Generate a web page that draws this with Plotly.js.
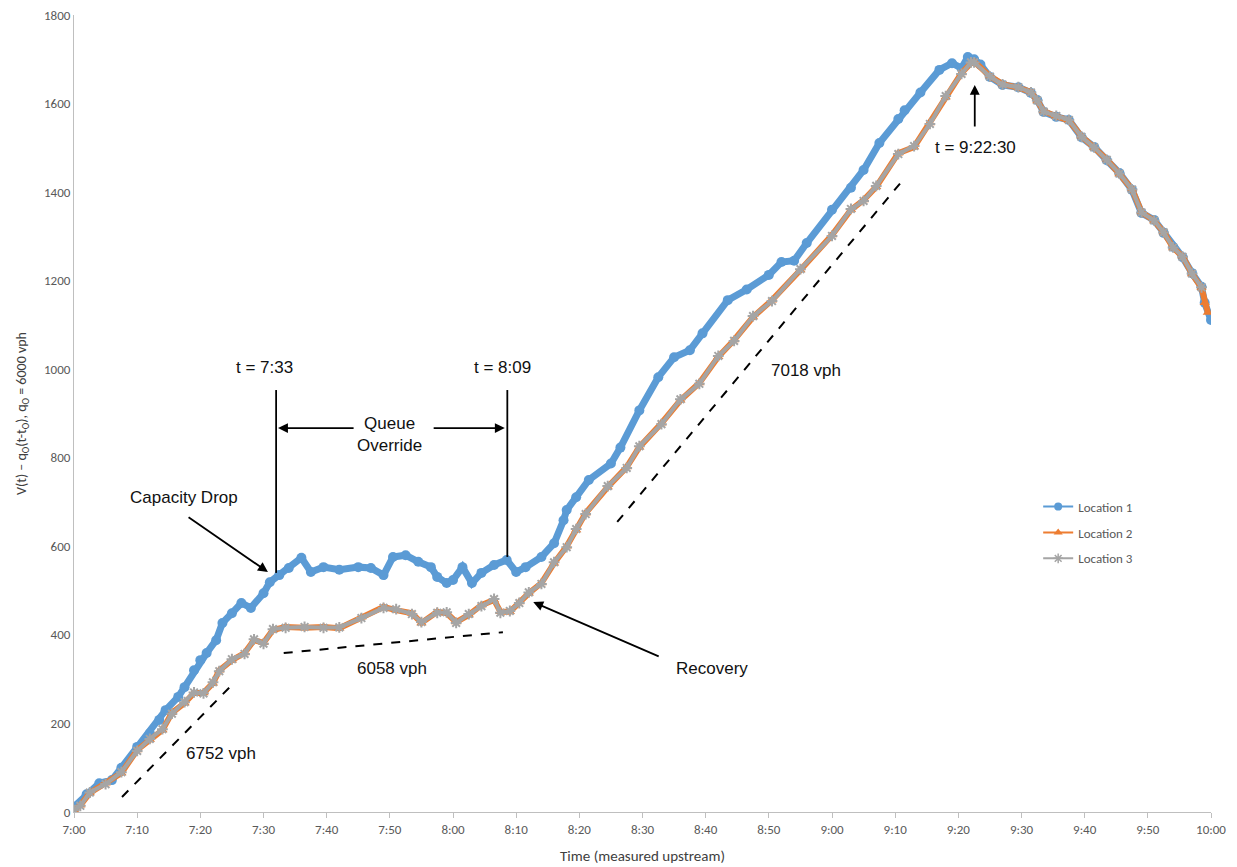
<!DOCTYPE html>
<html>
<head>
<meta charset="utf-8">
<script src="https://cdn.plot.ly/plotly-3.0.1.min.js"></script>
<style>html,body{margin:0;padding:0;background:#fff;}#chart{width:1237px;height:867px;}</style>
</head>
<body>
<div id="chart"></div>
<script>
// Minutes after 7:00 and cumulative values
const loc1Min = [0,2,4,6,7.5,10,12,13.5,14.5,16.5,17.5,19,20,21,22.5,23.5,25,26.5,28,30,31,32.5,34,36,37.5,39.5,42,45,47,49,50.5,52.5,54.5,56.5,57.5,59,60,61.5,63,64.5,66.5,68.5,70,71.5,74,76,77.5,78,79.5,81.5,85,86.5,89.5,92.5,95,97.5,99.5,103.5,106.5,110,112,114,116,120,123,125,127.5,130.5,131.5,134,137,139,140.5,141.5,142.5,143.5,145,147,149.5,151.5,152.5,153.5,155.5,157.5,159.5,161.5,163.5,165.5,167.5,169,171,172.5,174,175.5,177,178.5,179,180];
const loc1Val = [12,40,65,72,100,147,178,208,230,260,282,320,343,359,388,427,449,472,461,494,519,535,551,574,542,553,547,553,551,535,576,580,565,553,531,517,524,553,517,540,558,569,542,553,576,607,659,682,711,750,787,823,907,982,1027,1043,1081,1156,1180,1213,1242,1245,1285,1360,1410,1450,1511,1565,1585,1625,1676,1691,1680,1705,1700,1688,1660,1642,1637,1624,1608,1581,1570,1563,1524,1502,1472,1443,1405,1353,1337,1308,1276,1253,1217,1186,1150,1111];

const loc2Min = [0,1,2.5,5,7.5,10,12,14,15.5,17.5,19,20.5,22,23,25,27,28.5,30,31.5,33.5,36.5,39.5,42,45.5,49,51,53.5,55,57.5,59,60.5,62.5,64.5,66.5,67.5,69,70.5,72,74,76,78,79.5,81,84.5,87.5,89.5,93,96,99,102,104.5,107.5,110.5,115,120,123,125,127,130.5,133,135.5,138,140.5,142,142.5,145,147,149.5,151.5,152.5,153.5,155.5,157.5,159.5,161.5,163.5,165.5,167.5,169,171,172.5,174,175.5,177,178.5,179,179.5];
const loc2Val = [5,15,43,65,88,140,163,185,224,246,269,269,291,320,343,359,388,382,411,418,416,418,415,440,463,456,449,427,452,449,429,445,467,479,452,452,474,494,517,562,600,637,675,734,779,824,878,930,969,1028,1066,1118,1156,1224,1303,1360,1382,1412,1488,1502,1556,1615,1669,1691,1695,1662,1644,1636,1626,1606,1583,1571,1562,1526,1500,1474,1441,1407,1355,1335,1310,1274,1255,1215,1184,1150,1128];

const loc3Min = [0,1,2.5,5,7.5,10,12,14,15.5,17.5,19,20.5,22,23,25,27,28.5,30,31.5,33.5,36.5,39.5,42,45.5,49,51,53.5,55,57.5,59,60.5,62.5,64.5,66.5,67.5,69,70.5,72,74,76,78,79.5,81,84.5,87.5,89.5,93,96,99,102,104.5,107.5,110.5,115,120,123,125,127,130.5,133,135.5,138,140.5,142,142.5,145,147,149.5,151.5,152.5,153.5,155.5,157.5,159.5,161.5,163.5,165.5,167.5,169,171,172.5,174,175.5,177,178.5];
const loc3Val = [4,14,44,63,90,138,165,187,222,248,270,268,293,318,345,357,390,380,413,416,418,416,417,438,461,458,447,429,450,451,427,447,465,481,450,454,472,496,515,564,598,639,673,736,777,826,876,932,967,1030,1064,1120,1154,1226,1301,1362,1380,1414,1486,1504,1554,1617,1667,1693,1693,1661,1643,1637,1625,1607,1582,1572,1563,1525,1501,1473,1442,1406,1354,1336,1309,1275,1254,1216,1185];

const seriesNames = ['Location 1','Location 2','Location 3'];
const tickMinutes = [0,10,20,30,40,50,60,70,80,90,100,110,120,130,140,150,160,170,180];

const BASE = '2016-01-01 ';
function pad(n){return (n<10?'0':'')+n;}
function t(m){
  const whole = Math.floor(m);
  const s = Math.round((m-whole)*60);
  const h = 7 + Math.floor(whole/60);
  const mm = whole % 60;
  return BASE + pad(h)+':'+pad(mm)+':'+pad(s);
}

const colors = ['#5B9BD5','#ED7D31','#A5A5A5'];
const markers = [
  {symbol:'circle', size:10, color:colors[0]},
  {symbol:'triangle-up', size:9, color:colors[1]},
  {symbol:'asterisk-open', size:9, color:colors[2], line:{color:colors[2], width:2}}
];
const legendMarkers = [
  {symbol:'circle', size:8, color:colors[0]},
  {symbol:'triangle-up', size:8, color:colors[1]},
  {symbol:'asterisk-open', size:8, color:colors[2], line:{color:colors[2], width:1.5}}
];

const traces = [
  {x: loc1Min.map(t), y: loc1Val, name: seriesNames[0], showlegend:false, mode:'lines+markers', type:'scatter',
   line:{color:colors[0], width:7}, marker:markers[0]},
  {x: loc2Min.map(t), y: loc2Val, name: seriesNames[1], showlegend:false, mode:'lines+markers', type:'scatter',
   line:{color:colors[1], width:6}, marker:markers[1]},
  {x: loc3Min.map(t), y: loc3Val, name: seriesNames[2], showlegend:false, mode:'lines+markers', type:'scatter',
   line:{color:colors[2], width:4}, marker:markers[2]}
];
// legend entries (thin line samples as in the reference)
seriesNames.forEach((n,i)=>{
  traces.push({x:[null], y:[null], name:n, legendgroup:'g'+i, mode:'lines+markers', type:'scatter',
    line:{color:colors[i], width:2}, marker:legendMarkers[i]});
});

const txtFont = {family:'Liberation Sans, Arial, sans-serif', size:17, color:'#111'};
function label(m, v, text){
  return {x:t(m), y:v, xref:'x', yref:'y', text:text, showarrow:false, font:txtFont};
}
function arrow(m1, v1, m0, v0){
  return {x:t(m1), y:v1, ax:t(m0), ay:v0, xref:'x', yref:'y', axref:'x', ayref:'y',
    text:'', showarrow:true, arrowhead:2, arrowsize:1.1, arrowwidth:1.8, arrowcolor:'#000'};
}

const annotations = [
  label(17.4, 711, 'Capacity Drop'),
  arrow(30.7, 542, 17.9, 668),
  label(30.2, 1003, 't = 7:33'),
  label(67.9, 1003, 't = 8:09'),
  label(50, 853, 'Queue<br>Override'),
  arrow(32.3, 867, 44.5, 867),
  arrow(68.2, 867, 56.7, 867),
  label(101, 323, 'Recovery'),
  arrow(72.7, 474, 92.8, 350),
  label(23.3, 133, '6752 vph'),
  label(50.3, 325, '6058 vph'),
  label(115.9, 998, '7018 vph'),
  label(142.7, 1500, 't = 9:22:30'),
  arrow(142.6, 1642, 142.6, 1545)
];

const dash = {color:'#000', width:2, dash:'dash'};
const shapes = [
  {type:'line', xref:'x', yref:'y', x0:t(7.6), y0:34, x1:t(25), y1:287, line:dash},
  {type:'line', xref:'x', yref:'y', x0:t(33.2), y0:359, x1:t(67.9), y1:406, line:dash},
  {type:'line', xref:'x', yref:'y', x0:t(86), y0:655, x1:t(130.8), y1:1420, line:dash},
  {type:'line', xref:'x', yref:'y', x0:t(32), y0:540, x1:t(32), y1:953, line:{color:'#000', width:1.8}},
  {type:'line', xref:'x', yref:'y', x0:t(68.6), y0:576, x1:t(68.6), y1:953, line:{color:'#000', width:1.8}}
];

const FAM = 'Carlito, Liberation Sans, Arial, sans-serif';
const tickFont = {family:FAM, size:13, color:'#595959'};

const layout = {
  width:1237, height:867,
  margin:{l:74, r:26, t:15, b:55},
  paper_bgcolor:'#fff', plot_bgcolor:'#fff',
  showlegend:true,
  legend:{x:0.848, y:0.402, xanchor:'left', yanchor:'top', traceorder:'grouped', tracegroupgap:6,
          font:{family:FAM, size:13, color:'#595959'}, bgcolor:'rgba(0,0,0,0)'},
  xaxis:{
    type:'date', range:[t(0), t(180)],
    tickvals: tickMinutes.map(t), tickformat:'%-H:%M',
    showgrid:false, zeroline:false, showline:true, linecolor:'#BFBFBF', linewidth:1,
    ticks:'outside', ticklen:5, tickcolor:'#BFBFBF', tickfont:tickFont,
    title:{text:'Time (measured upstream)', font:{family:FAM, size:15, color:'#404040'}, standoff:14}
  },
  yaxis:{
    range:[0,1800], dtick:200, tick0:0,
    showgrid:false, zeroline:false, showline:true, linecolor:'#BFBFBF', linewidth:1,
    ticks:'', tickfont:tickFont,
    title:{text:'V(t) \u2013 q<sub>O</sub>(t-t<sub>O</sub>), q<sub>O</sub> = 6000 vph', font:{family:FAM, size:14, color:'#404040'}, standoff:14}
  },
  annotations:annotations,
  shapes:shapes
};

Plotly.newPlot('chart', traces, layout, {displayModeBar:false, staticPlot:true});
</script>
</body>
</html>
